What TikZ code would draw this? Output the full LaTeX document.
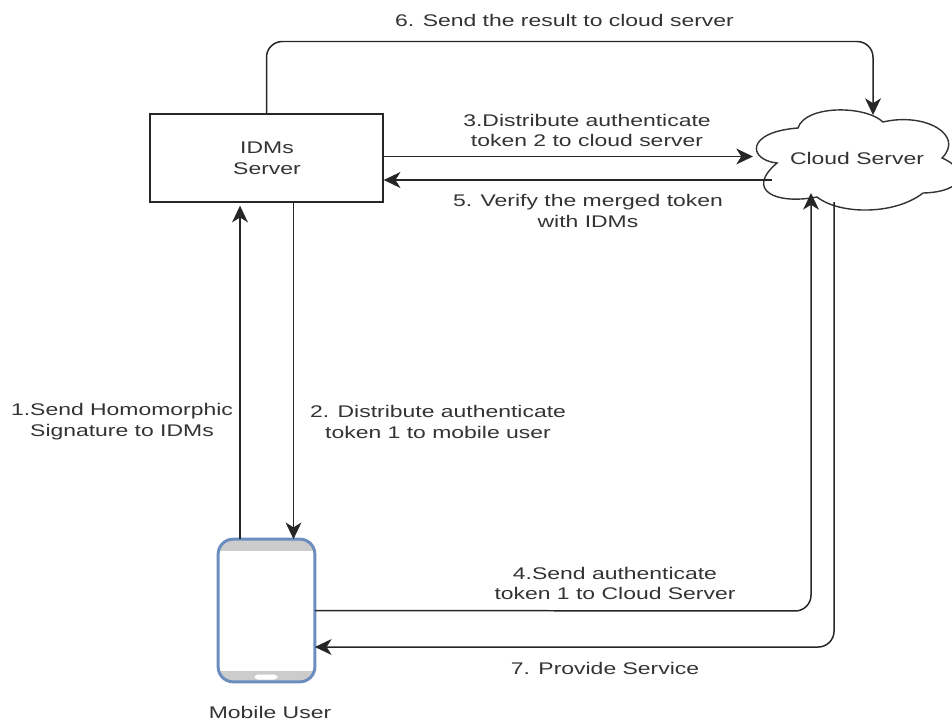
\documentclass[tikz,border=0pt]{standalone}
\usepackage{fontspec}
\setmainfont[FakeStretch=1.36]{Liberation Sans}
\usetikzlibrary{arrows.meta}
\definecolor{phoneblue}{HTML}{6C8EBF}
\definecolor{phonegray}{HTML}{CCCCCC}
\tikzset{
  link/.style={draw=black!85,line width=0.85pt,-{Stealth[length=9.5pt,width=9pt,inset=2.8pt]},rounded corners=9pt},
  lab/.style={font=\fontsize{9.6}{11.9}\selectfont,text=black!80,align=center,inner sep=0pt},
}
\begin{document}
\begin{tikzpicture}[x=0.02cm,y=-0.02cm]
\useasboundingbox (0,0) rectangle (952,720);
\node[draw=black!85,line width=0.8pt,minimum width=4.66cm,minimum height=1.76cm,inner sep=0pt] (idms) at (266.5,158) {};
\node[lab] (idmstext) at (267,158) {IDMs\\Server};

\begin{scope}
\clip (0,0) rectangle (952,720);
\draw[black!80,line width=0.8pt,fill=white] (777,163)
  .. controls (748,160) and (745,132) .. (798,128)
  .. controls (805,105) and (865,105) .. (883,122)
  .. controls (925,112) and (965,135) .. (942,158)
  .. controls (970,170) and (965,192) .. (923,193)
  .. controls (895,215) and (840,215) .. (817,197)
  .. controls (775,205) and (745,190) .. (777,163) -- cycle;
\end{scope}
\node[lab] (cloudtext) at (857,158) {Cloud Server};

\node[fill=white,minimum width=1.92cm,minimum height=2.84cm,inner sep=0pt] (phone) at (266.5,610.5) {};
\begin{scope}
\path[clip,rounded corners=8.5pt] (phone.south west) rectangle (phone.north east);
\path[fill=phonegray] (phone.north west) rectangle (314.5,551);
\path[fill=phonegray] (phone.south west) rectangle (314.5,671);
\end{scope}
\draw[phoneblue,line width=1.7pt,rounded corners=8.5pt] (phone.south west) rectangle (phone.north east);
\node[fill=white,rounded corners=2pt,minimum width=0.46cm,minimum height=0.1cm,inner sep=0pt] (phonekey) at (266,677) {};
\node[lab] (phonetext) at (270,712) {Mobile User};

\coordinate (cloudtop) at (873,115);
\coordinate (cloudin) at (753,156.5);
\coordinate (cloudout) at (772,180);
\coordinate (cloudlow) at (811,193);
\coordinate (cloudback) at (834,202);

\draw[link] (idms.north) -- (266.5,41.5) -- (873,41.5) -- (cloudtop);
\draw[link] (idms.east |- cloudin) -- (cloudin);
\draw[link] (cloudout) -- (idms.east |- cloudout);
\draw[link,shorten >=1.7pt] ([xshift=-0.53cm]phone.north) -- ([xshift=-0.53cm]idms.south);
\draw[link] ([xshift=0.54cm]idms.south) -- ([xshift=0.54cm]phone.north);
\draw[link] (phone.east) -- (811,611) -- (cloudlow);
\draw[link] (cloudback) -- (834,647) -- ([yshift=-0.73cm]phone.east);

\node[lab] (step6) at (564.5,20) {6. Send the result to cloud server};
\node[lab] (step3) at (587,130.5) {3.Distribute authenticate\\token 2 to cloud server};
\node[lab] (step5) at (588,211) {5. Verify the merged token\\with IDMs};
\node[lab] (step1) at (122,422) {1.Send Homomorphic\\Signature to IDMs};
\node[lab] (step2) at (438,422) {2. Distribute authenticate\\token 1 to mobile user};
\node[lab] (step4) at (615,583.5) {4.Send authenticate\\token 1 to Cloud Server};
\node[lab] (step7) at (605,668) {7. Provide Service};
\end{tikzpicture}
\end{document}
